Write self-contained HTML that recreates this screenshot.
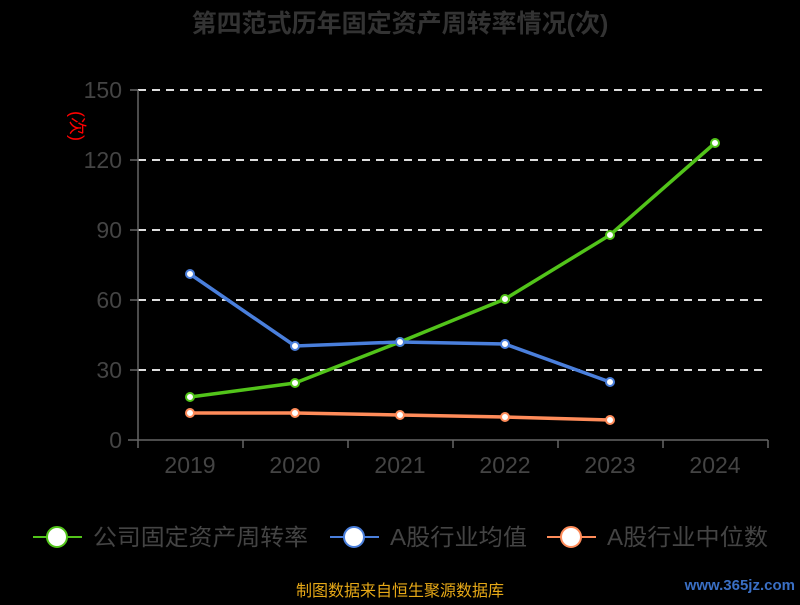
<!DOCTYPE html>
<html><head><meta charset="utf-8"><style>
body{margin:0;background:#000;width:800px;height:600px;overflow:hidden;font-family:"Liberation Sans","Noto Sans CJK SC",sans-serif}
</style></head><body>
<svg width="800" height="600" xmlns="http://www.w3.org/2000/svg" font-family="Liberation Sans, Noto Sans CJK SC, sans-serif">
<rect width="800" height="600" fill="#000"/>
<text x="400" y="32" text-anchor="middle" font-size="25" font-weight="bold" fill="#333">第四范式历年固定资产周转率情况(次)</text>
<g stroke="#ddd" stroke-width="2" stroke-dasharray="8,6">
<line x1="138" y1="90" x2="768" y2="90"/><line x1="138" y1="160" x2="768" y2="160"/>
<line x1="138" y1="230" x2="768" y2="230"/><line x1="138" y1="300" x2="768" y2="300"/>
<line x1="138" y1="370" x2="768" y2="370"/>
</g>
<g stroke="#666" stroke-width="1.5">
<line x1="138" y1="90" x2="138" y2="440"/><line x1="128" y1="440" x2="768" y2="440"/>
<line x1="138" y1="440" x2="138" y2="448"/><line x1="243" y1="440" x2="243" y2="448"/><line x1="348" y1="440" x2="348" y2="448"/><line x1="453" y1="440" x2="453" y2="448"/><line x1="558" y1="440" x2="558" y2="448"/><line x1="663" y1="440" x2="663" y2="448"/><line x1="768" y1="440" x2="768" y2="448"/>
<line x1="130" y1="90" x2="138" y2="90"/><line x1="130" y1="160" x2="138" y2="160"/><line x1="130" y1="230" x2="138" y2="230"/><line x1="130" y1="300" x2="138" y2="300"/><line x1="130" y1="370" x2="138" y2="370"/>
</g>
<g fill="#444" font-size="23" text-anchor="end">
<text x="122" y="98">150</text><text x="122" y="168">120</text><text x="122" y="238">90</text><text x="122" y="308">60</text><text x="122" y="378">30</text><text x="122" y="448">0</text>
</g>
<g fill="#444" font-size="23" text-anchor="middle">
<text x="190" y="473">2019</text><text x="295" y="473">2020</text><text x="400" y="473">2021</text><text x="505" y="473">2022</text><text x="610" y="473">2023</text><text x="715" y="473">2024</text>
</g>
<text x="78" y="133" fill="red" font-size="18" text-anchor="middle" transform="rotate(90 78 126)">(次)</text>
<polyline fill="none" stroke="#52c41a" stroke-width="3.5" points="190,397 295,383 400,342 505,299 610,235 715,143"/>
<polyline fill="none" stroke="#4a7fdc" stroke-width="3.5" points="190,274 295,346 400,342 505,344 610,382"/>
<polyline fill="none" stroke="#ff8c5a" stroke-width="3.5" points="190,413 295,413 400,415 505,417 610,420"/>
<g fill="#fff" stroke="#52c41a" stroke-width="2"><circle cx="190" cy="397" r="4"/><circle cx="295" cy="383" r="4"/><circle cx="400" cy="342" r="4"/><circle cx="505" cy="299" r="4"/><circle cx="610" cy="235" r="4"/><circle cx="715" cy="143" r="4"/></g>
<g fill="#fff" stroke="#4a7fdc" stroke-width="2"><circle cx="190" cy="274" r="4"/><circle cx="295" cy="346" r="4"/><circle cx="400" cy="342" r="4"/><circle cx="505" cy="344" r="4"/><circle cx="610" cy="382" r="4"/></g>
<g fill="#fff" stroke="#ff8c5a" stroke-width="2"><circle cx="190" cy="413" r="4"/><circle cx="295" cy="413" r="4"/><circle cx="400" cy="415" r="4"/><circle cx="505" cy="417" r="4"/><circle cx="610" cy="420" r="4"/></g>
<g font-size="23" fill="#444">
<line x1="33" y1="537" x2="82" y2="537" stroke="#52c41a" stroke-width="2"/><circle cx="57" cy="537" r="10" fill="#fff" stroke="#52c41a" stroke-width="2"/>
<text x="93" y="545" textLength="215" lengthAdjust="spacingAndGlyphs">公司固定资产周转率</text>
<line x1="330" y1="537" x2="379" y2="537" stroke="#4a7fdc" stroke-width="2"/><circle cx="354" cy="537" r="10" fill="#fff" stroke="#4a7fdc" stroke-width="2"/>
<text x="390" y="545" textLength="137" lengthAdjust="spacingAndGlyphs">A股行业均值</text>
<line x1="547" y1="537" x2="596" y2="537" stroke="#ff8c5a" stroke-width="2"/><circle cx="571" cy="537" r="10" fill="#fff" stroke="#ff8c5a" stroke-width="2"/>
<text x="607" y="545" textLength="161" lengthAdjust="spacingAndGlyphs">A股行业中位数</text>
</g>
<text x="400" y="596" text-anchor="middle" font-size="16" fill="#e6a817">制图数据来自恒生聚源数据库</text>
<text x="795" y="590" text-anchor="end" font-size="15" font-weight="bold" fill="#3a6fc4">www.365jz.com</text>
</svg>
</body></html>
